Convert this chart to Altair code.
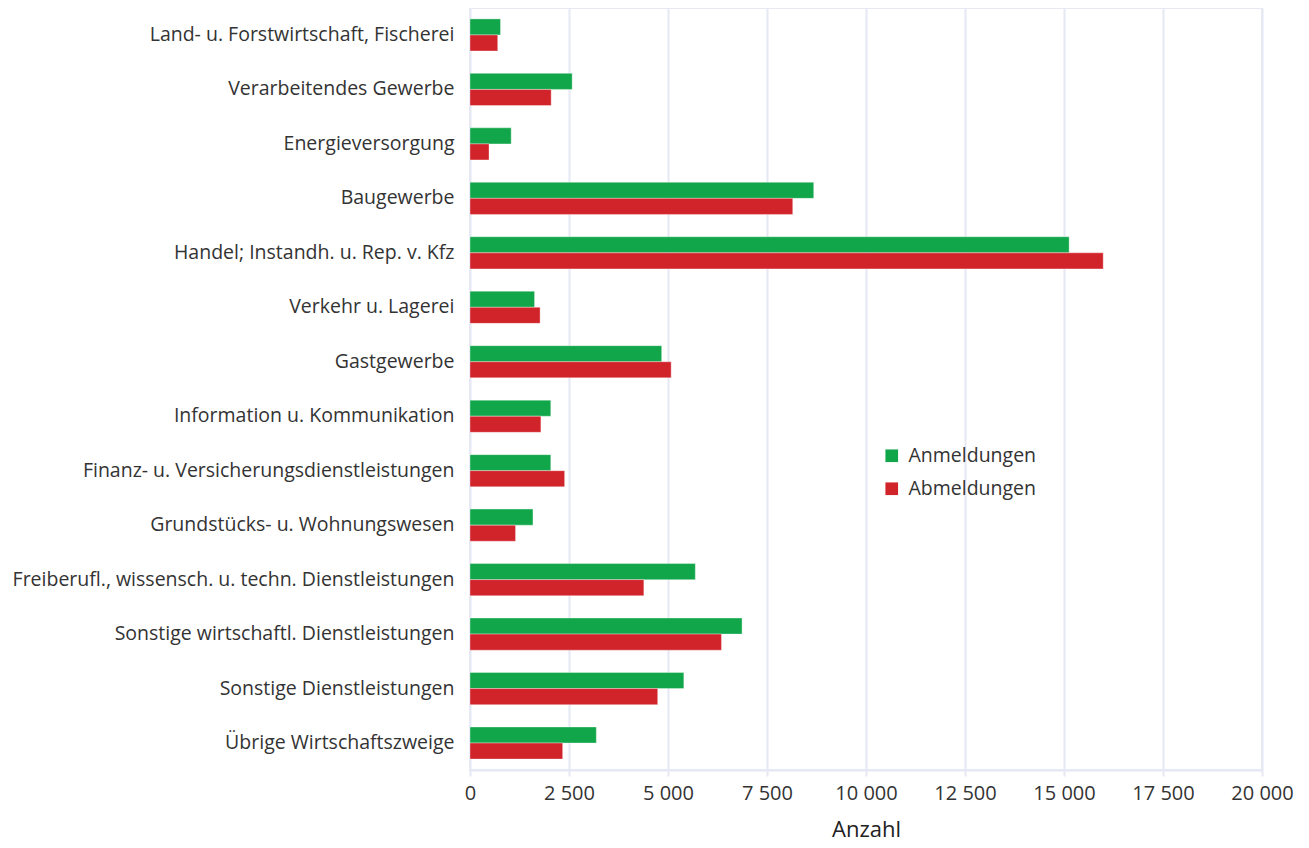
import altair as alt
import pandas as pd

categories = [
    "Land- u. Forstwirtschaft, Fischerei",
    "Verarbeitendes Gewerbe",
    "Energieversorgung",
    "Baugewerbe",
    "Handel; Instandh. u. Rep. v. Kfz",
    "Verkehr u. Lagerei",
    "Gastgewerbe",
    "Information u. Kommunikation",
    "Finanz- u. Versicherungsdienstleistungen",
    "Grundstücks- u. Wohnungswesen",
    "Freiberufl., wissensch. u. techn. Dienstleistungen",
    "Sonstige wirtschaftl. Dienstleistungen",
    "Sonstige Dienstleistungen",
    "Übrige Wirtschaftszweige",
]
anmeldungen = [770, 2580, 1040, 8680, 15130, 1630, 4840, 2040, 2040, 1590, 5690, 6870, 5400, 3190]
abmeldungen = [700, 2050, 480, 8150, 15990, 1770, 5080, 1790, 2390, 1150, 4390, 6350, 4740, 2340]
series = ["Anmeldungen", "Abmeldungen"]
colors = ["#12a64a", "#d1232a"]
x_ticks = [0, 2500, 5000, 7500, 10000, 12500, 15000, 17500, 20000]

rows = []
for c, a, b in zip(categories, anmeldungen, abmeldungen):
    rows.append({"Kategorie": c, "Serie": series[0], "Anzahl": a})
    rows.append({"Kategorie": c, "Serie": series[1], "Anzahl": b})
df = pd.DataFrame(rows)

font = "Open Sans"
grid = "#e6e8f4"

bars = alt.Chart(df).mark_bar(stroke="white", strokeOpacity=0.35, strokeWidth=1).encode(
    y=alt.Y("Kategorie:N", sort=categories, title=None,
            scale=alt.Scale(paddingInner=0.41, paddingOuter=0.2),
            axis=alt.Axis(labelFont=font, labelFontSize=19.5, labelColor="#333333",
                          labelPadding=16, ticks=False, domain=False, grid=False,
                          labelLimit=600)),
    yOffset=alt.YOffset("Serie:N", sort=series),
    x=alt.X("Anzahl:Q", title="Anzahl",
            scale=alt.Scale(domain=[0, 20000], nice=False),
            axis=alt.Axis(values=x_ticks, format=",d", labelFont=font, labelFontSize=20,
                          labelColor="#333333", titleFont=font, titleFontSize=22,
                          titleFontWeight="normal", titleColor="#222222", titlePadding=16,
                          gridColor=grid, gridWidth=2, domainColor=grid, domainWidth=2,
                          tickColor=grid, tickWidth=2, tickSize=6, labelPadding=7,
                          labelFlush=False, labelOverlap=False)),
    color=alt.Color("Serie:N", sort=series,
                    scale=alt.Scale(domain=series, range=colors),
                    legend=alt.Legend(title=None, orient="none", legendX=412, legendY=438,
                                      labelFont=font, labelFontSize=19.5, labelColor="#333333",
                                      symbolType="square", symbolSize=160, symbolStrokeWidth=0,
                                      rowPadding=12, labelOffset=7)),
)

chart = bars.properties(
    width=792, height=762,
    autosize=alt.AutoSizeParams(type="none"),
    padding={"left": 462, "top": 0, "right": 38, "bottom": 78},
).configure_view(stroke=grid, strokeWidth=2)

chart.save("out.html", embed_options={"renderer": "svg", "actions": False,
                                      "formatLocale": {"decimal": ",", "thousands": " ",
                                                       "grouping": [3], "currency": ["", " €"]}})
